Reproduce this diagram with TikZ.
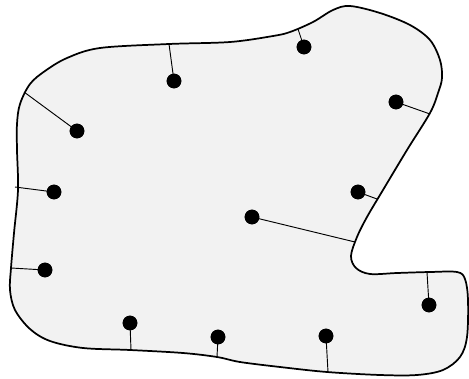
\documentclass[tikz,border=0pt]{standalone}
\begin{document}
\begin{tikzpicture}[x=0.75pt,y=-0.75pt,
  dot/.style={circle,fill=black,inner sep=0pt,minimum size=11pt},
  spoke/.style={draw=black,line width=0.7pt}]
\def\outlinepts{(230,42) (273,36) (290,32) (313,22) (333,10) (350,6) (380,13) (410,25) (430,40) (440,60) (442,78) (438,93) (430,113) (407,150) (383,190) (367,217) (357,237) (351,256) (356,268) (370,274) (397,273) (430,272) (457,272) (465,279) (468,300) (467,337) (460,357) (443,370) (417,375) (380,375) (327,372) (280,367) (240,362) (217,357) (183,353) (130,350) (83,348) (50,341) (30,329) (15,310) (10,290) (11,268) (14,233) (18,190) (17,150) (17,124) (20,104) (30,84) (45,71) (67,58) (100,48) (169,44)}
\useasboundingbox (0,0) rectangle (469,379);
\path[fill=black!5] plot[smooth cycle,tension=0.55] coordinates {\outlinepts};
% boundary points of spokes
\coordinate (b1) at (169,44);
\coordinate (b2) at (24,92);
\coordinate (b3) at (15,187);
\coordinate (b4) at (11,268);
\coordinate (b5) at (131,350);
\coordinate (b6) at (217,357);
\coordinate (b7) at (328,372);
\coordinate (b8) at (427,272);
\coordinate (b9) at (355,242);
\coordinate (b10) at (377,199);
\coordinate (b11) at (430,114);
\coordinate (b12) at (298,29);
% dots
\node[dot] (d1) at (174,81) {};
\node[dot] (d2) at (77,131) {};
\node[dot] (d3) at (54,192) {};
\node[dot] (d4) at (45,270) {};
\node[dot] (d5) at (130,323) {};
\node[dot] (d6) at (218,337) {};
\node[dot] (d7) at (326,336) {};
\node[dot] (d8) at (429,305) {};
\node[dot] (d9) at (252,217) {};
\node[dot] (d10) at (358,192) {};
\node[dot] (d11) at (396,102) {};
\node[dot] (d12) at (304,47) {};
\foreach \i in {1,...,12} {\draw[spoke] (d\i.center) -- (b\i);}
\draw[black,line width=1.3pt] plot[smooth cycle,tension=0.55] coordinates {\outlinepts};
\foreach \i in {1,...,12} {\node[dot] at (d\i) {};}
\end{tikzpicture}
\end{document}
